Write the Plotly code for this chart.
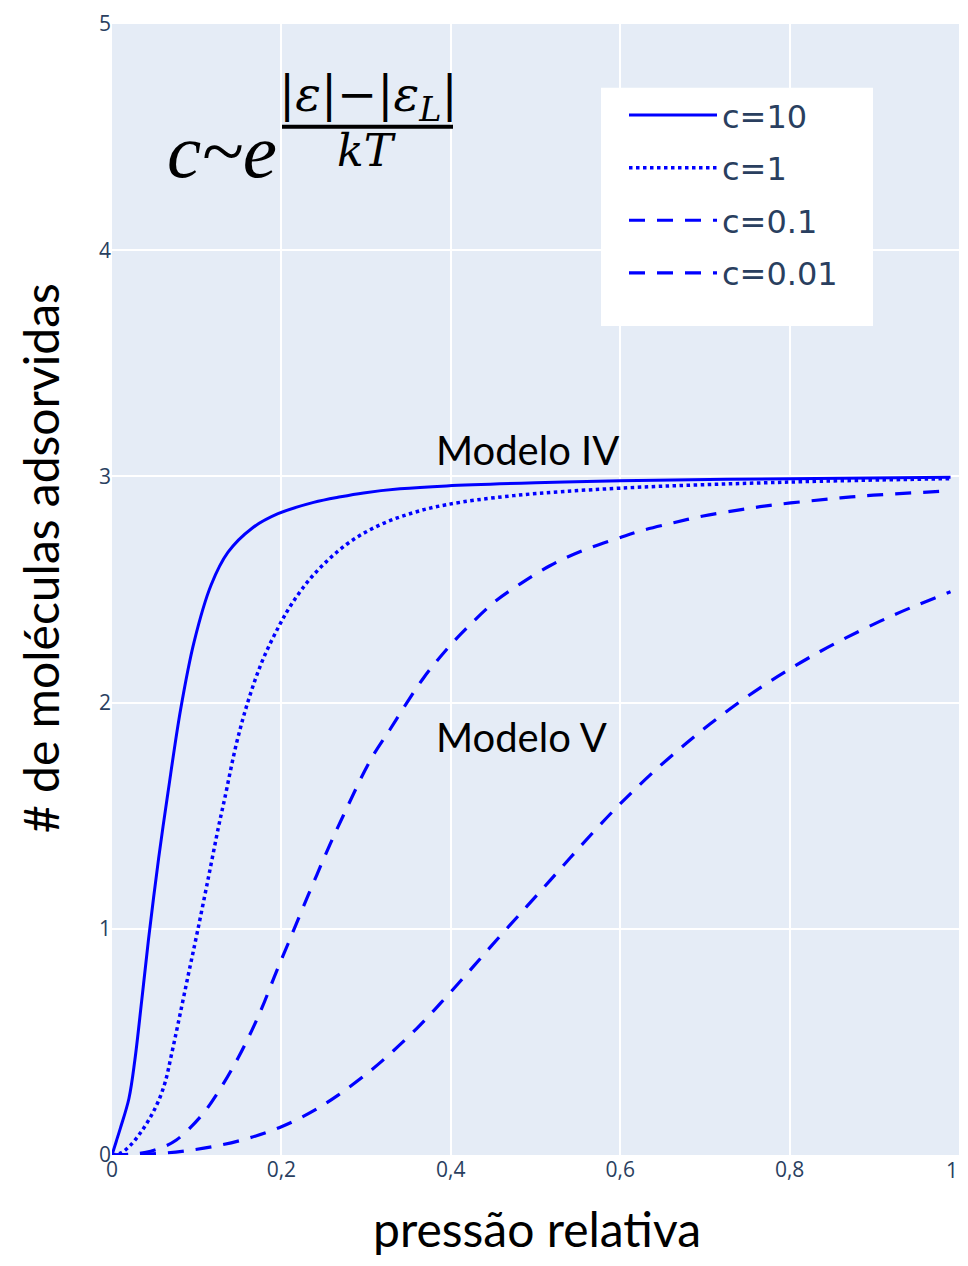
import plotly.graph_objects as go

# ---- data ----
x_c10 = [0, 0.005, 0.01, 0.02, 0.027, 0.035, 0.043, 0.055, 0.066, 0.081, 0.097, 0.117,
         0.137, 0.165, 0.196, 0.238, 0.27, 0.297, 0.34, 0.395, 0.5, 0.6, 0.8, 0.99]
y_c10 = [0, 0.06, 0.12, 0.25, 0.42, 0.68, 0.95, 1.31, 1.6, 1.97, 2.27, 2.52,
         2.665, 2.77, 2.835, 2.885, 2.91, 2.927, 2.945, 2.958, 2.972, 2.981, 2.99, 2.996]

x_c1 = [0, 0.01, 0.021, 0.033, 0.045, 0.055, 0.063, 0.070, 0.078, 0.090, 0.101, 0.114,
        0.126, 0.133, 0.147, 0.161, 0.177, 0.196, 0.212, 0.238, 0.277, 0.316, 0.356,
        0.395, 0.474, 0.6, 0.8, 0.99]
y_c1 = [0, 0.008, 0.04, 0.095, 0.165, 0.24, 0.325, 0.44, 0.58, 0.795, 0.99, 1.23,
        1.455, 1.575, 1.82, 2.01, 2.18, 2.33, 2.435, 2.565, 2.70, 2.785, 2.84,
        2.875, 2.915, 2.948, 2.975, 2.99]

x_c01 = [0, 0.02, 0.04, 0.06, 0.076, 0.106, 0.129, 0.149, 0.165, 0.177, 0.194, 0.208,
         0.224, 0.242, 0.257, 0.273, 0.305, 0.328, 0.344, 0.368, 0.395, 0.419, 0.45,
         0.482, 0.517, 0.553, 0.596, 0.623, 0.663, 0.698, 0.741, 0.777, 0.82, 0.86,
         0.899, 0.99]
y_c01 = [0, 0.003, 0.012, 0.035, 0.066, 0.176, 0.30, 0.43, 0.55, 0.65, 0.81, 0.935,
         1.08, 1.24, 1.37, 1.50, 1.745, 1.88, 1.975, 2.11, 2.235, 2.33, 2.44,
         2.525, 2.605, 2.668, 2.725, 2.758, 2.795, 2.825, 2.852, 2.872, 2.89, 2.905,
         2.917, 2.936]

x_c001 = [0, 0.03, 0.06, 0.09, 0.122, 0.161, 0.198, 0.234, 0.267, 0.305, 0.332, 0.36,
          0.381, 0.401, 0.427, 0.458, 0.49, 0.517, 0.541, 0.566, 0.592, 0.615, 0.647,
          0.678, 0.706, 0.738, 0.769, 0.80, 0.836, 0.867, 0.907, 0.942, 0.99]
y_c001 = [0, 0.002, 0.008, 0.02, 0.039, 0.074, 0.122, 0.187, 0.265, 0.372, 0.46, 0.56,
          0.643, 0.725, 0.835, 0.967, 1.10, 1.213, 1.314, 1.418, 1.522, 1.608, 1.72,
          1.82, 1.905, 1.995, 2.075, 2.148, 2.226, 2.287, 2.36, 2.418, 2.49]

series_names = ["c=10", "c=1", "c=0.1", "c=0.01"]
x_ticks = [0, 0.2, 0.4, 0.6, 0.8, 1]
x_tick_labels = ["0", "0,2", "0,4", "0,6", "0,8", "1"]
y_ticks = [0, 1, 2, 3, 4, 5]

BLUE = "#0000ff"
TICK_COLOR = "#2a3f5f"

# page geometry (plotly page has an 8px body margin)
W, H = 952, 1250
ML, MT, PW, PH = 104, 12, 847, 1135
MR = W - ML - PW
MB = H - MT - PH
OFF = 8  # body margin


def px(xp):
    """page pixel x -> paper x"""
    return (xp - OFF - ML) / PW


def py(yp):
    """page pixel y -> paper y"""
    return 1 - (yp - OFF - MT) / PH


fig = go.Figure()
styles = [dict(dash="solid", width=3), dict(dash="dot", width=3.5),
          dict(dash="16px,12px", width=3.2), dict(dash="16px,12px", width=3.2)]
data = [(x_c10, y_c10), (x_c1, y_c1), (x_c01, y_c01), (x_c001, y_c001)]
for (xs, ys), name, st in zip(data, series_names, styles):
    fig.add_trace(go.Scatter(x=xs, y=ys, mode="lines", name=name, legendgroup=name,
                             line=dict(color=BLUE, shape="spline", smoothing=1.0, **st)))

fig.update_layout(
    width=W, height=H,
    margin=dict(l=ML, r=MR, t=MT, b=MB),
    plot_bgcolor="#E5ECF6", paper_bgcolor="white",
    separators=",.",
    font=dict(family="Open Sans, Arial", color=TICK_COLOR),
    showlegend=True,
    legend=dict(x=px(624), y=py(84), xanchor="left", yanchor="top",
                bgcolor="white", borderwidth=0, tracegroupgap=8, itemwidth=88,
                font=dict(size=32, family="DejaVu Sans, Verdana", color=TICK_COLOR)),
    xaxis=dict(range=[0, 1], tickvals=x_ticks, ticktext=x_tick_labels,
               showgrid=True, gridcolor="white",
               gridwidth=1.5, zeroline=False, tickfont=dict(size=21), showline=False),
    yaxis=dict(range=[0, 5], tickvals=y_ticks, showgrid=True, gridcolor="white",
               gridwidth=1.5, zeroline=False, tickfont=dict(size=21), showline=False,
               ticklabeloverflow="allow"),
)

# last x tick label sits on the page edge (plotly hides it past the div), so draw it
# right-aligned at the end of the axis
fig.add_annotation(text=x_tick_labels[-1], xref="paper", yref="paper",
                   x=1, y=py(1170), xanchor="right", yanchor="middle", showarrow=False,
                   xshift=1, font=dict(size=21, family="Open Sans, Arial", color=TICK_COLOR))

# white backdrop for the legend box
fig.add_shape(type="rect", xref="paper", yref="paper", layer="below",
              x0=px(601), x1=px(873), y0=py(323), y1=py(84),
              fillcolor="white", line=dict(width=0))

# axis titles
fig.add_annotation(text="pressão relativa", xref="paper", yref="paper",
                   x=px(537), y=py(1229), xanchor="center", yanchor="middle", showarrow=False,
                   font=dict(size=48, family="Lato, Liberation Sans", color="black"))
fig.add_annotation(text="# de moléculas adsorvidas", xref="paper", yref="paper",
                   x=px(40), y=py(556), xanchor="center", yanchor="middle", showarrow=False,
                   textangle=-90,
                   font=dict(size=48, family="Lato, Liberation Sans", color="black"))

# model labels
fig.add_annotation(text="Modelo IV", x=0.49, y=3.115, showarrow=False,
                   font=dict(size=40, family="Lato, Liberation Sans", color="black"))
fig.add_annotation(text="Modelo V", x=0.483, y=1.85, showarrow=False,
                   font=dict(size=40, family="Lato, Liberation Sans", color="black"))

# formula c ~ e^{(|ε|-|ε_L|)/kT}
fig.add_annotation(text="<i>c~e</i>", xref="paper", yref="paper",
                   x=px(165), y=py(147), xanchor="left", yanchor="middle",
                   showarrow=False,
                   font=dict(size=77, family="Liberation Serif, DejaVu Serif", color="black"))
fig.add_annotation(text="|<i>ε</i>|−|<i>ε<sub>L</sub></i>|", xref="paper", yref="paper",
                   x=px(368), y=py(94), xanchor="center", yanchor="middle",
                   showarrow=False,
                   font=dict(size=48, family="DejaVu Serif", color="black"))
fig.add_annotation(text="<i>kT</i>", xref="paper", yref="paper",
                   x=px(367), y=py(147), xanchor="center", yanchor="middle",
                   showarrow=False,
                   font=dict(size=44, family="DejaVu Serif", color="black"))
fig.add_shape(type="line", xref="paper", yref="paper",
              x0=px(282), x1=px(453), y0=py(123), y1=py(123),
              line=dict(color="black", width=4))

fig.write_html("out.html")
